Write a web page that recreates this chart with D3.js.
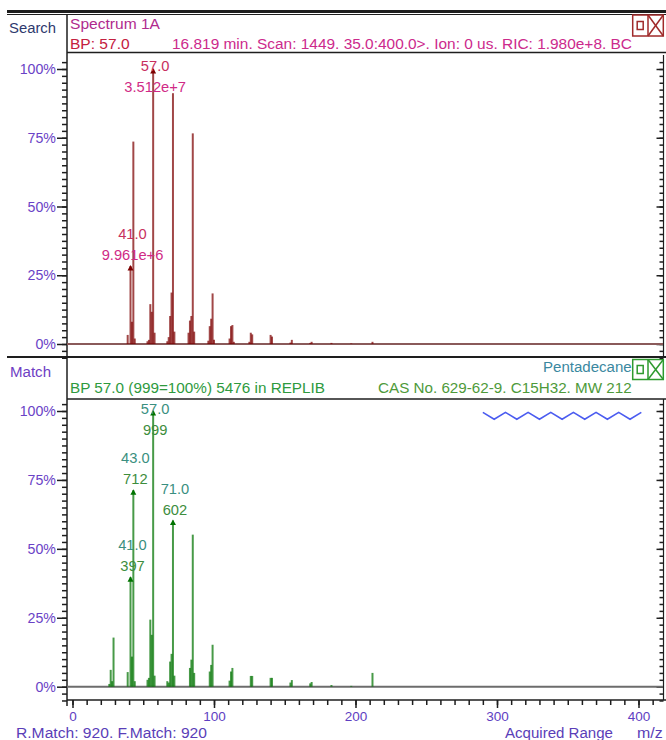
<!DOCTYPE html>
<html>
<head>
<meta charset="utf-8">
<script src="https://cdn.jsdelivr.net/npm/d3@7"></script>
<style>
  html, body { margin: 0; padding: 0; background: #fff; }
  svg { display: block; font-family: "Liberation Sans", Arial, sans-serif; }
</style>
</head>
<body>
<svg id="chart" width="666" height="740"></svg>
<script>
// ---- Search spectrum (scan 1449): m/z and absolute abundance ----
const searchMz = [39, 41, 42, 43, 44, 53, 54, 55, 56, 57, 58, 67, 68, 69, 70, 71, 72,
  82, 83, 84, 85, 86, 96, 97, 98, 99, 100, 111, 112, 113, 114, 125, 126, 127,
  140, 141, 154, 155, 168, 169, 183, 197, 212];
const searchAbund = [1.16e6, 9.961e6, 2.84e6, 2.585e7, 7.0e5, 3.5e5, 5.3e5, 5.09e6, 4.11e6, 3.512e7, 1.44e6,
  3.5e5, 8.8e5, 3.58e6, 6.57e6, 3.203e7, 1.58e6,
  1.44e6, 2.99e6, 3.58e6, 2.69e7, 1.58e6, 4.2e5, 2.28e6, 3.23e6, 6.46e6, 5.3e5,
  7.0e5, 2.28e6, 2.42e6, 2.8e5, 2.8e5, 1.44e6, 1.23e6,
  1.16e6, 9.5e5, 1.8e5, 5.3e5, 1.4e5, 2.8e5, 1.4e5, 7e4, 2.8e5];
const searchLabelMz = [57, 41];

// ---- Library hit (Pentadecane), intensities on a 0-999 scale ----
const libMz = [26, 27, 28, 29, 39, 41, 42, 43, 44, 53, 54, 55, 56, 57, 58, 67, 68, 69, 70, 71, 72,
  83, 84, 85, 86, 97, 98, 99, 111, 112, 113, 126, 127, 140, 141, 154, 155,
  168, 169, 183, 197, 212];
const libInt = [10, 61, 20, 178, 53, 397, 109, 712, 20, 25, 32, 243, 188, 999, 40, 20, 15, 91, 119, 602, 40,
  68, 98, 551, 50, 55, 79, 152, 22, 55, 68, 39, 39, 32, 32, 15, 24,
  12, 17, 6, 3, 50];
const libLabelMz = [57, 43, 71, 41];

// Acquired-range marker drawn across the library panel
const zigMz = [290, 298, 306, 314, 322, 330, 338, 346, 354, 362, 370, 378, 386, 394, 402];
const zigPct = [99.5, 97, 99.5, 97, 99.5, 97, 99.5, 97, 99.5, 97, 99.5, 97, 99.5, 97, 99.5];

// Axis ticks
const pctMajor = [0, 25, 50, 75, 100];
const pctMinor = d3.range(-5, 103, 2.5);
const mzMajor = [0, 100, 200, 300, 400];
const mzMinor = d3.range(0, 420, 10);

const searchBase = d3.max(searchAbund);
const libBase = 999;

const svg = d3.select("#chart");
const ink = "#1e1e1e";

// scales
const x = d3.scaleLinear().domain([0, 400]).range([72.5, 638.5]);
const yTop = d3.scaleLinear().domain([0, 100]).range([344, 69]);
const yBot = d3.scaleLinear().domain([0, 100]).range([686.7, 411]);

function txt(o) {
  const t = svg.append("text")
    .attr("x", o.x).attr("y", o.y)
    .attr("font-size", o.size || 15.3)
    .attr("fill", o.fill || "#000")
    .attr("text-anchor", o.anchor || "start")
    .text(o.text);
  if (o.width) t.attr("textLength", o.width).attr("lengthAdjust", "spacingAndGlyphs");
  return t;
}
function hline(x1, x2, yv, w, c) {
  svg.append("line").attr("x1", x1).attr("x2", x2).attr("y1", yv).attr("y2", yv)
    .attr("stroke", c || ink).attr("stroke-width", w || 1.5);
}
function vline(xv, y1, y2, w, c) {
  svg.append("line").attr("x1", xv).attr("x2", xv).attr("y1", y1).attr("y2", y2)
    .attr("stroke", c || ink).attr("stroke-width", w || 1.5);
}

// ---- frame rules ----
svg.append("rect").attr("x", 7).attr("y", 10).attr("width", 659).attr("height", 3).attr("fill", ink);
hline(7, 666, 14.5, 1);
vline(67, 14, 706, 1.5);
hline(67, 666, 52.5, 1.5);
hline(7, 666, 357, 2);
hline(67, 666, 399, 1.5);
hline(67, 666, 700, 1.5);
vline(663.5, 55, 357, 1.2);
vline(663.5, 399, 700, 1.2);

// ---- header texts ----
txt({x: 9, y: 32.5, text: "Search", fill: "#2e3a6e", width: 47});
txt({x: 70, y: 29.3, text: "Spectrum 1A", fill: "#b02a8e", width: 90});
txt({x: 70, y: 49, text: "BP: 57.0", fill: "#c42040", width: 59.6});
txt({x: 172, y: 49, text: "16.819 min. Scan: 1449. 35.0:400.0>. Ion: 0 us. RIC: 1.980e+8. BC", fill: "#cc2a8c", width: 460});

txt({x: 10, y: 376.5, text: "Match", fill: "#6e3ec4", width: 41});
txt({x: 631.7, y: 372.3, text: "Pentadecane", fill: "#3a88a0", anchor: "end", width: 88.7});
txt({x: 70, y: 392.7, text: "BP 57.0 (999=100%) 5476 in REPLIB", fill: "#2e9a3e", width: 255});
txt({x: 631.7, y: 392.7, text: "CAS No. 629-62-9. C15H32. MW 212", fill: "#4e9a3a", anchor: "end", width: 253.7});

// window buttons
function buttons(x0, y0, h, c) {
  const g = svg.append("g").attr("fill", "none").attr("stroke", c).attr("stroke-width", 1.5);
  g.append("rect").attr("x", x0).attr("y", y0).attr("width", 30.6).attr("height", h);
  g.append("line").attr("x1", x0 + 15.3).attr("x2", x0 + 15.3).attr("y1", y0).attr("y2", y0 + h);
  g.append("rect").attr("x", x0 + 4.5).attr("y", y0 + h / 2 - 4).attr("width", 6).attr("height", 8);
  g.append("line").attr("x1", x0 + 15.3).attr("x2", x0 + 30.6).attr("y1", y0).attr("y2", y0 + h);
  g.append("line").attr("x1", x0 + 30.6).attr("x2", x0 + 15.3).attr("y1", y0).attr("y2", y0 + h);
}
buttons(632.7, 15, 21, "#a02a2a");
buttons(632.7, 359.5, 20, "#2e9a2e");

// ---- y axes (left and right) for a panel ----
function yAxes(y) {
  const minor = d3.axisLeft(y).tickValues(pctMinor).tickSize(5).tickFormat("");
  const major = d3.axisLeft(y).tickValues(pctMajor).tickSize(10).tickPadding(1)
    .tickFormat(d => d + "%");
  const gMinor = svg.append("g").attr("transform", "translate(67,0)").call(minor);
  const gMajor = svg.append("g").attr("transform", "translate(67,0)").call(major);
  const rMinor = d3.axisRight(y).tickValues(pctMinor).tickSize(-4).tickFormat("");
  const rMajor = d3.axisRight(y).tickValues(pctMajor).tickSize(-7).tickFormat("");
  const gr1 = svg.append("g").attr("transform", "translate(663.5,0)").call(rMinor);
  const gr2 = svg.append("g").attr("transform", "translate(663.5,0)").call(rMajor);
  [gMinor, gMajor, gr1, gr2].forEach(g => {
    g.select(".domain").remove();
    g.selectAll("line").attr("stroke", ink).attr("stroke-width", 1.5);
  });
  gMajor.selectAll("text").attr("font-size", 14.2).attr("fill", "#6a42c6")
    .attr("font-family", '"Liberation Sans", Arial, sans-serif');
}
yAxes(yTop);
yAxes(yBot);

// ---- x axis ----
{
  const minor = d3.axisBottom(x).tickValues(mzMinor).tickSize(5).tickFormat("");
  const major = d3.axisBottom(x).tickValues(mzMajor).tickSize(8).tickPadding(3).tickFormat(d3.format("d"));
  const g1 = svg.append("g").attr("transform", "translate(0,700)").call(minor);
  const g2 = svg.append("g").attr("transform", "translate(0,700)").call(major);
  [g1, g2].forEach(g => {
    g.select(".domain").remove();
    g.selectAll("line").attr("stroke", ink).attr("stroke-width", 1.5);
  });
  g2.selectAll("text").attr("font-size", 13.5).attr("fill", "#5e3ec2")
    .attr("font-family", '"Liberation Sans", Arial, sans-serif');
}

// ---- baselines ----
hline(67, 663, yTop(0), 2, "#8a5a5a");
hline(67, 663, yBot(0), 2, "#6c6c6c");

// ---- spectra ----
function sticks(mz, pct, y, color) {
  svg.append("g").selectAll("line").data(mz).join("line")
    .attr("x1", d => x(d)).attr("x2", d => x(d))
    .attr("y1", y(0)).attr("y2", (d, i) => y(pct[i]))
    .attr("stroke", color).attr("stroke-width", 2).attr("stroke-opacity", 0.72);
}
const searchPct = searchAbund.map(v => v / searchBase * 100);
const libPct = libInt.map(v => v / libBase * 100);
sticks(searchMz, searchPct, yTop, "#7d0000");
sticks(libMz, libPct, yBot, "#007300");

// acquired-range marker
svg.append("path")
  .datum(zigMz.map((m, i) => [m, zigPct[i]]))
  .attr("d", d3.line().x(d => x(d[0])).y(d => yBot(d[1])))
  .attr("fill", "none").attr("stroke", "#4b5cf0").attr("stroke-width", 1.6);

// ---- peak annotations ----
function annotate(labelMz, mz, vals, pct, y, fmtVal, minBase, cMark, c1, c2) {
  labelMz.forEach(m => {
    const i = mz.indexOf(m);
    const px = x(m), top = y(pct[i]);
    svg.append("path")
      .attr("d", `M${px},${top - 1}L${px - 3},${top + 4.5}L${px + 3},${top + 4.5}Z`)
      .attr("fill", cMark);
    const b1 = Math.max(top - 27, minBase);
    txt({x: px + 2, y: b1, text: d3.format(".1f")(m), fill: c1, anchor: "middle", size: 14.7});
    txt({x: px + 2, y: b1 + 21, text: fmtVal(vals[i]), fill: c2, anchor: "middle", size: 14.7});
  });
}
annotate(searchLabelMz, searchMz, searchAbund, searchPct, yTop, d3.format(".3e"), 70.5,
  "#7d0000", "#c8305e", "#d02a86");
annotate(libLabelMz, libMz, libInt, libPct, yBot, d3.format("d"), 413.5,
  "#007300", "#3a8f80", "#3d8d3d");

// ---- footer ----
txt({x: 16, y: 737.5, size: 14, text: "R.Match: 920. F.Match: 920", fill: "#5a3eb8", width: 191});
txt({x: 505, y: 737.5, size: 14, text: "Acquired Range", fill: "#5a3eb8", width: 108});
txt({x: 637, y: 737.5, size: 14, text: "m/z", fill: "#5a3eb8", width: 25.7});
</script>
</body>
</html>
